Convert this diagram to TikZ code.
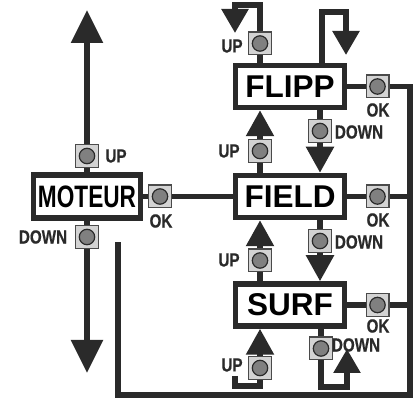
\documentclass[tikz,border=0pt]{standalone}
\usepackage{fontspec}
\setmainfont{Liberation Sans}
\newfontfamily\narrowbold[FakeStretch=0.8,FakeBold=0.5]{Liberation Sans Bold}
\newfontfamily\moteurfont[FakeStretch=0.73]{Liberation Sans Bold}
\usetikzlibrary{arrows.meta}
\definecolor{linec}{HTML}{2A2A2A}
\definecolor{btnfill}{HTML}{D3D3D3}
\definecolor{btnedge}{HTML}{4A4A4A}
\definecolor{btncirc}{HTML}{808080}
\begin{document}
\begin{tikzpicture}[x=1pt,y=-1pt,
  ln/.style={draw=linec, line width=5.5pt},
  state/.style={draw=linec, line width=5.5pt, fill=white, minimum width=109pt, minimum height=42pt, inner sep=0pt, font=\bfseries\fontsize{31.5}{31.5}\selectfont},
  btn/.style={draw=btnedge, fill=btnfill, line width=1.2pt, minimum size=22.8pt, inner sep=0pt,
    path picture={\draw[fill=btncirc, draw=linec, line width=1.2pt] (path picture bounding box.center) circle (7.7pt);}},
  lbl/.style={text=linec, inner sep=0pt, font=\narrowbold\fontsize{19}{19}\selectfont},
  bigarr/.style={-{Triangle[width=31pt,length=33pt]}},
  midarr/.style={-{Triangle[width=27pt,length=26pt]}},
  looparr/.style={-{Triangle[width=26pt,length=24pt]}},
]
\useasboundingbox (0,0) rectangle (416,401);

% states
\node[state, minimum width=107pt, minimum height=43pt, font=\moteurfont\fontsize{31}{31}\selectfont] (moteur) at (87,196.5) {MOTEUR};
\node[state] (flipp) at (290,86.5) {FLIPP};
\node[state] (field) at (290,196.5) {FIELD};
\node[state] (surf) at (290,305) {SURF};

% buttons
\node[btn] (bMup) at (87,156) {};
\node[btn] (bMdown) at (87,237) {};
\node[btn] (bMok) at (160,196.5) {};
\node[btn] (bFup) at (260,43.5) {};
\node[btn] (bFdown) at (320,131) {};
\node[btn] (bFok) at (377.5,86.5) {};
\node[btn] (bEup) at (260,151) {};
\node[btn] (bEdown) at (320,241) {};
\node[btn] (bEok) at (377.5,196.5) {};
\node[btn] (bSup) at (260,260.5) {};
\node[btn] (bSdown) at (321,348.5) {};
\node[btn] (bSok) at (377.5,305) {};
\node[btn] (bSupb) at (260,368) {};

% labels
\node[lbl] (tMup) at (116,156) {UP};
\node[lbl] (tMdown) at (43,237) {DOWN};
\node[lbl] (tMok) at (161,221) {OK};
\node[lbl] (tFup) at (232,46) {UP};
\node[lbl] (tFdown) at (359,132) {DOWN};
\node[lbl] (tFok) at (378,110) {OK};
\node[lbl] (tEup) at (229,151) {UP};
\node[lbl] (tEdown) at (359,242) {DOWN};
\node[lbl] (tEok) at (378,220) {OK};
\node[lbl] (tSup) at (229,260) {UP};
\node[lbl] (tSok) at (378,326) {OK};
\node[lbl] (tSupb) at (232,365) {UP};
\node[lbl] (tSdown) at (356,345) {DOWN};

% coordinates for free ends
\coordinate (mTop) at (87,10);
\coordinate (mBot) at (87,373);
\coordinate (fl1) at (260,5);
\coordinate (fl2) at (235,33);
\coordinate (fr1) at (322,12);
\coordinate (fr2) at (346,55);
\coordinate (sl1) at (235,376);
\coordinate (sl2) at (260,386);
\coordinate (sd1) at (321,387);
\coordinate (sd2) at (347,349);
\coordinate (rTop) at (410,86.5);
\coordinate (rBot) at (410,395);
\coordinate (lBot) at (118,395);
\coordinate (lTop) at (118,242);

% MOTEUR
\draw[ln] (moteur) -- (bMup);
\draw[ln,bigarr] (bMup) -- (mTop);
\draw[ln] (moteur) -- (bMdown);
\draw[ln,bigarr] (bMdown) -- (mBot);
\draw[ln] (moteur) -- (bMok);
\draw[ln] (bMok) -- (field);

% FLIPP top loops
\draw[ln] (bFup) -- (bFup |- flipp.north);
\draw[ln,looparr] (bFup) -- (fl1) -| (fl2);
\draw[ln,looparr] (fr1 |- flipp.north) -- (fr1) -| (fr2);

% between states
\draw[ln] (flipp.south -| bFdown) -- (bFdown);
\draw[ln,midarr] (bFdown) -- (bFdown |- field.north);
\draw[ln] (field.north -| bEup) -- (bEup);
\draw[ln,midarr] (bEup) -- (bEup |- flipp.south);
\draw[ln] (field.south -| bEdown) -- (bEdown);
\draw[ln,midarr] (bEdown) -- (bEdown |- surf.north);
\draw[ln] (surf.north -| bSup) -- (bSup);
\draw[ln,midarr] (bSup) -- (bSup |- field.south);

% SURF bottom loops
\draw[ln,midarr] (bSupb) -- (bSupb |- surf.south);
\draw[ln] (sl1) |- (sl2) -- (bSupb);
\draw[ln] (surf.south -| bSdown) -- (bSdown);
\draw[ln,looparr] (bSdown) -- (sd1) -| (sd2);

% OK lines
\draw[ln] (flipp) -- (bFok);
\draw[ln] (bFok) -- (rTop) -- (rBot) -- (lBot) -- (lTop);
\draw[ln] (field) -- (bEok);
\draw[ln] (bEok) -- (bEok -| rTop);
\draw[ln] (surf) -- (bSok);
\draw[ln] (bSok) -- (bSok -| rTop);
\end{tikzpicture}
\end{document}
